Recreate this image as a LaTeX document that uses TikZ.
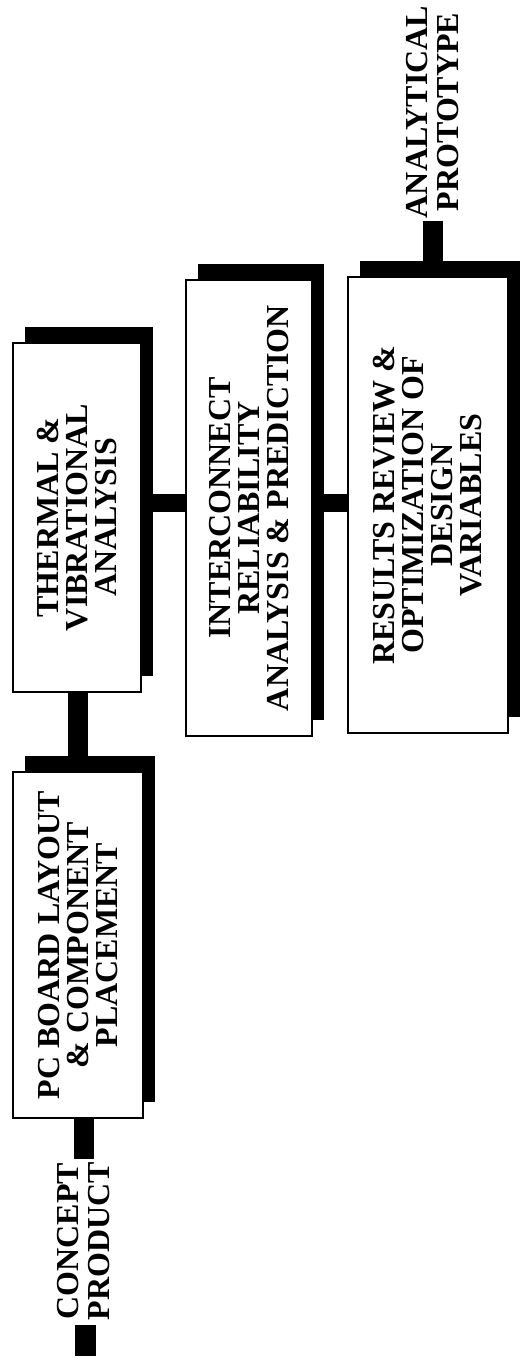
\documentclass[tikz,border=0pt]{standalone}
\usepackage{fontspec}
\setmainfont{Liberation Serif}
\usetikzlibrary{shadows}

\begin{document}
\begin{tikzpicture}[x=1pt, y=-1pt,
    stage/.style={
      draw=black, fill=white, rotate=90, inner sep=0pt,
      align=center, font=\fontsize{32}{29}\selectfont\bfseries,
      line width=2.6pt,
      drop shadow={shadow xshift=12pt, shadow yshift=16pt, opacity=1, fill=black}
    },
    bar/.style={line width=20pt, black},
    label/.style={rotate=90, inner sep=3pt, align=center, font=\fontsize{32}{31}\selectfont\bfseries}
  ]
  \useasboundingbox (0,0) rectangle (520,1360);

  \node[label] (concept) at (84,1241) {CONCEPT\\PRODUCT};
  \node[label] (proto) at (433,112) {ANALYTICAL\\PROTOTYPE};
  \node[fill=black, minimum width=21pt, minimum height=31pt, inner sep=0pt] (start) at (85.5,1340.5) {};
  \coordinate (mid) at (0,503);

  % connectors first, boxes on top
  \draw[bar] (concept.east) -- (concept.east |- 0,945);
  \draw[bar] (78,945) -- (78,517);
  \draw[bar, line width=18pt] (77,0 |- mid) -- (428,0 |- mid);
  \draw[bar] (proto.west) -- (proto.west |- 0,505);

  \node[stage, minimum width=346pt, minimum height=130pt] (layout) at (78,945)
    {PC BOARD LAYOUT\\\& COMPONENT\\PLACEMENT};
  \node[stage, minimum width=349pt, minimum height=128pt] (thermal) at (77,517.5)
    {THERMAL \&\\VIBRATIONAL\\ANALYSIS};
  \node[stage, minimum width=456pt, minimum height=126pt] (reliab) at (249,508)
    {INTERCONNECT\\RELIABILITY\\ANALYSIS \& PREDICTION};
  \node[stage, minimum width=456pt, minimum height=160pt] (review) at (428,505)
    {RESULTS REVIEW \&\\OPTIMIZATION OF\\DESIGN\\VARIABLES};
\end{tikzpicture}
\end{document}
